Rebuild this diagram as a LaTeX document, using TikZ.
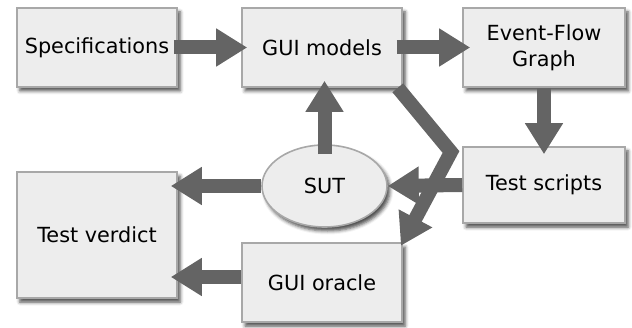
\documentclass[tikz,border=0pt]{standalone}
\usepackage{fontspec}
\setmainfont{DejaVu Sans}
\usetikzlibrary{arrows.meta,shapes.geometric,shadows.blur,calc}
\definecolor{arrowgray}{HTML}{646464}
\definecolor{boxfill}{HTML}{EDEDED}
\definecolor{boxborder}{HTML}{A8A8A8}
\tikzset{
  box/.style={draw=boxborder, fill=boxfill, line width=1.6pt, rectangle,
    inner sep=0pt, align=center,
    font=\fontsize{20.8}{26}\selectfont,
    blur shadow={shadow xshift=3pt, shadow yshift=-4pt, shadow blur radius=3.5pt, shadow opacity=70}},
  ell/.style={box, ellipse},
  bigarrow/.style={draw=arrowgray, line width=14pt,
    -{Triangle[length=31pt,width=36pt]}, arrowgray}
}
\begin{document}
\begin{tikzpicture}[x=1pt,y=-1pt]
\useasboundingbox (0,0) rectangle (632,328);
\node[box, minimum width=160pt, minimum height=79pt] (spec) at (97,47.5) {Specifications};
\node[box, minimum width=160pt, minimum height=79pt] (gui) at (322,47.5) {GUI models};
\node[box, minimum width=162pt, minimum height=79pt] (efg) at (544,47.5) {Event-Flow\\Graph};
\node[box, minimum width=162pt, minimum height=76pt] (ts) at (544,185) {Test scripts};
\node[ell, minimum width=125pt, minimum height=82pt] (sut) at (324.5,186) {SUT};
\node[box, minimum width=160pt, minimum height=126pt] (tv) at (97,235) {Test verdict};
\node[box, minimum width=160pt, minimum height=79pt] (oracle) at (322,282.5) {GUI oracle};
\coordinate (bend) at (451,152);

\draw[bigarrow, shorten <=-4pt, shorten >=-6pt] (spec.east) -- (gui.west);
\draw[bigarrow, shorten <=-6pt, shorten >=-8pt] (gui.east) -- (efg.west);
\draw[bigarrow, shorten >=-8pt] (efg.south) -- (ts.north);
\draw[bigarrow, shorten <=-10pt, shorten >=-7pt] (sut.north) -- (sut.north |- gui.south);
\draw[bigarrow] (ts.west) -- (sut.east);
\draw[bigarrow, shorten >=-7pt] (sut.west) -- (sut.west -| tv.east);
\draw[bigarrow, shorten >=-7pt] ([yshift=5.5pt]oracle.west) -- ([yshift=5.5pt]oracle.west -| tv.east);
\draw[bigarrow, line join=miter, shorten >=-4pt] ([xshift=-5pt]gui.south east) -- (bend) -- (oracle.north east);
\end{tikzpicture}
\end{document}
